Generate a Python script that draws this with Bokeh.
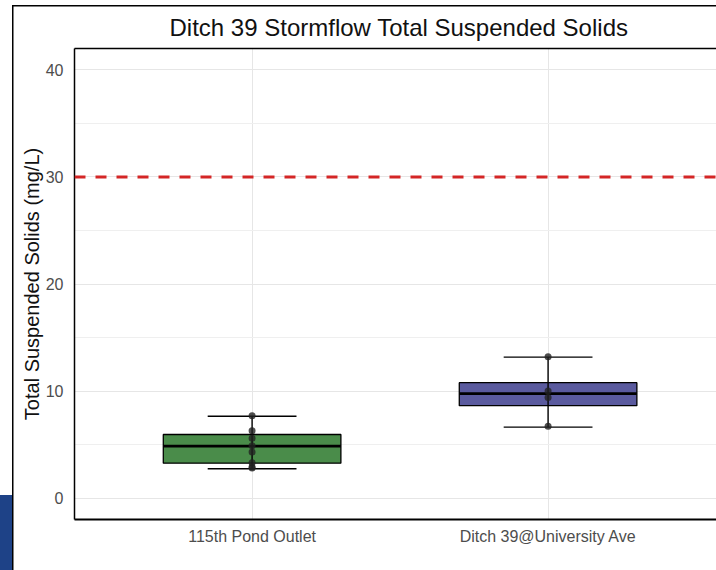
from bokeh.plotting import figure
from bokeh.models import (Range1d, FixedTicker, SingleIntervalTicker, LinearAxis,
                          Span, ColumnDataSource)
from bokeh.embed import file_html
from bokeh.resources import INLINE

# ---- data ----
categories = ["115th Pond Outlet", "Ditch 39@University Ave"]
box_colors = ["#4a8c4a", "#5a5a9e"]
lower = [2.74, 6.63]
q1 = [3.26, 8.63]
median = [4.85, 9.75]
q3 = [5.94, 10.78]
upper = [7.65, 13.17]
points_cat = [0, 0, 0, 0, 0, 0, 0, 0, 1, 1, 1, 1]
points_val = [7.7, 6.3, 5.6, 4.9, 4.3, 3.3, 2.9, 2.8, 13.2, 10.0, 9.4, 6.7]
threshold = 30

title = "Ditch 39 Stormflow Total Suspended Solids"
y_label = "Total Suspended Solids (mg/L)"

FONT = "Liberation Sans"

# frame of the screenshot the chart was cut from (page background)
frame_styles = {
    "background-color": "white",
    "background-image": "linear-gradient(#1e4287,#1e4287), linear-gradient(#000,#000), linear-gradient(#000,#000)",
    "background-size": "12px 80px, 1.5px 570px, 710px 1.5px",
    "background-position": "0px 495px, 12px 5px, 12px 5px",
    "background-repeat": "no-repeat",
}

p = figure(width=716, height=570, x_range=Range1d(0.4, 2.569), y_range=Range1d(-2, 42),
           output_backend="svg", toolbar_location=None,
           min_border_left=74, min_border_right=0, min_border_top=48, min_border_bottom=51,
           title=title, styles=frame_styles)
p.outline_line_color = None
p.background_fill_color = "white"
p.border_fill_color = None

p.title.text_font = FONT
p.title.text_font_size = "24px"
p.title.text_font_style = "normal"
p.title.text_color = "#111111"
p.title.align = "left"
p.title.offset = 95
p.title.standoff = 16

xs = [i + 1 for i in range(len(categories))]

# axes
p.xaxis.ticker = FixedTicker(ticks=xs)
p.xaxis.major_label_overrides = {x: c for x, c in zip(xs, categories)}
p.xaxis.major_label_text_font = FONT
p.xaxis.major_label_text_font_size = "16px"
p.xaxis.major_label_text_color = "#4d4d4d"
p.xaxis.major_tick_out = 0
p.xaxis.major_tick_in = 0
p.xaxis.minor_tick_out = 0
p.xaxis.major_label_standoff = 8
p.xaxis.axis_line_color = "black"
p.xaxis.axis_line_width = 2

p.yaxis.ticker = SingleIntervalTicker(interval=10, num_minor_ticks=2)
p.yaxis.major_label_text_font = FONT
p.yaxis.major_label_text_font_size = "16px"
p.yaxis.major_label_text_color = "#4d4d4d"
p.yaxis.major_tick_out = 0
p.yaxis.major_tick_in = 0
p.yaxis.minor_tick_out = 0
p.yaxis.minor_tick_in = 0
p.yaxis.major_label_standoff = 11
p.yaxis.axis_line_color = "black"
p.yaxis.axis_line_width = 1.5
p.yaxis.axis_label = y_label
p.yaxis.axis_label_text_font = FONT
p.yaxis.axis_label_text_font_size = "20px"
p.yaxis.axis_label_text_font_style = "normal"
p.yaxis.axis_label_text_color = "#111111"
p.yaxis.axis_label_standoff = 0

top_axis = LinearAxis(ticker=FixedTicker(ticks=[]), axis_line_color="black", axis_line_width=1.5,
                      major_tick_out=0, major_tick_in=0, minor_tick_out=0, minor_tick_in=0)
p.add_layout(top_axis, "above")

# grids
p.ygrid.ticker = SingleIntervalTicker(interval=10, num_minor_ticks=2)
p.ygrid.grid_line_color = "#e6e6e6"
p.ygrid.grid_line_width = 1
p.ygrid.minor_grid_line_color = "#efefef"
p.ygrid.minor_grid_line_width = 1
p.xgrid.ticker = FixedTicker(ticks=xs)
p.xgrid.grid_line_color = "#e6e6e6"
p.xgrid.grid_line_width = 1

# threshold line
p.add_layout(Span(location=threshold, dimension="width", line_color="#d42626",
                  line_width=3, line_dash="11 10"))

# boxes
src = ColumnDataSource(dict(x=xs, lower=lower, q1=q1, med=median, q3=q3, upper=upper,
                            color=box_colors,
                            bl=[x - 0.3 for x in xs], br=[x + 0.3 for x in xs],
                            cl=[x - 0.15 for x in xs], cr=[x + 0.15 for x in xs]))
p.vbar(x="x", width=0.6, top="q3", bottom="q1", fill_color="color", line_color="black",
       line_width=1.3, source=src)
p.segment(x0="bl", x1="br", y0="med", y1="med", line_color="black", line_width=2.7, source=src)
p.segment(x0="x", x1="x", y0="lower", y1="upper", line_color="black", line_width=1.4, source=src)
p.segment(x0="cl", x1="cr", y0="upper", y1="upper", line_color="black", line_width=1.4, source=src)
p.segment(x0="cl", x1="cr", y0="lower", y1="lower", line_color="black", line_width=1.4, source=src)

p.scatter(x=[xs[c] for c in points_cat], y=points_val, size=7, fill_color="#222222",
          line_color=None, fill_alpha=0.8)

open("out.html", "w").write(file_html(p, INLINE))
